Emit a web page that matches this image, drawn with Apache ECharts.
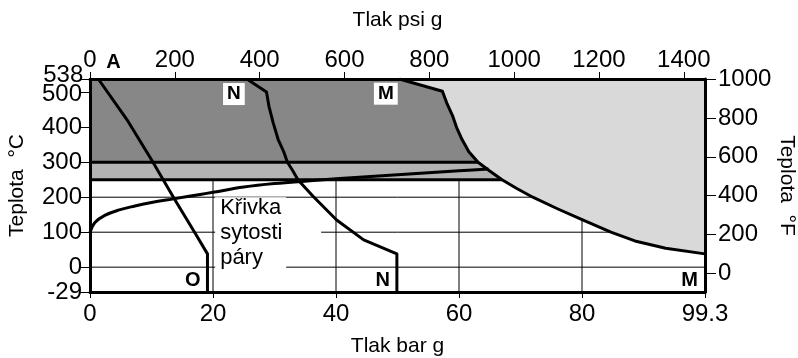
<!DOCTYPE html>
<html>
<head>
<meta charset="utf-8">
<script src="https://cdn.jsdelivr.net/npm/echarts@6/dist/echarts.min.js"></script>
<style>
  html, body { margin: 0; padding: 0; background: #fff; }
  #main { width: 798px; height: 358px; }
</style>
</head>
<body>
<div id="main"></div>
<script>
var FONT = '"Liberation Sans", Arial, sans-serif';

// spodni okraj grafu je zlomeny - popisek -29 lezi na urovni Y_BOTTOM
var Y_BOTTOM = -71;
var Y_TOP = 538;
var X_MAX = 100;          // prava hrana grafu, popsana 99.3
var PSI_PER_BAR = 14.5;

var tempTicksC = [Y_BOTTOM, 0, 100, 200, 300, 400, 500, 538];
var tempTicksF = [0, 200, 400, 600, 800, 1000];
var psiTicks = [0, 200, 400, 600, 800, 1000, 1200, 1400];
var gridBars = [20, 40, 60, 80];
var gridTemps = [0, 100, 200];

// krivky [bar g, °C]
var curveM = [[50.3, 538], [57.3, 503], [58.0, 470], [59.0, 431], [59.6, 400], [60.5, 365], [61.6, 330],
  [63.1, 300], [65.0, 275], [67.0, 250], [69.4, 225], [72.0, 200], [76.0, 167], [80.1, 135],
  [84.7, 100], [88.6, 75], [93.6, 54], [100, 38]];
var curveN = [[25.5, 538], [28.7, 501], [29.1, 460], [29.8, 412], [30.6, 365], [31.5, 330], [32.1, 300],
  [33.0, 275], [33.8, 250], [36.3, 202], [40.1, 135], [44.5, 78], [49.9, 38], [49.9, Y_BOTTOM]];
var curveO = [[1.35, 538], [6.0, 422], [10.0, 307], [13.8, 193], [17.1, 97], [19.1, 38], [19.1, Y_BOTTOM]];
var satCurve = [[0, 100], [0.8, 128], [2.4, 148], [4.6, 163], [7.3, 175], [10, 185], [13.8, 196],
  [17.9, 208], [20, 214], [25, 229], [30, 239], [35.8, 247], [40, 252.6], [50, 264], [60, 275.5], [64.8, 281]];

var boxNotes = ['N', 'M'];
var boxNotesPos = [[23.4, 495], [48.1, 496]];
var plainNotes = ['A', 'O', 'N', 'M'];
var plainNotesPos = [[3.8, 586], [16.7, -39], [47.6, -37], [97.5, -39]];
var satNotePos = [20.35, 97];
// popisky 538 a 500 jsou v predloze od sebe odsunute
var topTickText = ['538', '500'];
var topTickPos = [[-1.1, 548], [-1.3, 493]];

function cToF(c) { return c * 1.8 + 32; }

var mAt300 = curveM.filter(function (p) { return p[1] === 300; })[0];
var mAt250 = curveM.filter(function (p) { return p[1] === 250; })[0];
var darkPoly = [[0, 300], [0, Y_TOP]].concat(curveM.filter(function (p) { return p[1] >= 300; }));
var bandPoly = [[0, 250], [0, 300]].concat(curveM.filter(function (p) { return p[1] <= 300 && p[1] >= 250; }));
var lightPoly = curveM.concat([[X_MAX, Y_TOP]]);

var myChart = echarts.init(document.getElementById('main'), null, { renderer: 'canvas' });

var frame = { show: true, onZero: false, lineStyle: { color: '#000', width: 3 } };
var tickStyle = { color: '#000', width: 1 };
function plain(v) { return String(v); }
function labelC(v) { return v === Y_BOTTOM ? '-29' : String(v); }

function curveSeries(data, smooth) {
  return {
    type: 'line', data: data, showSymbol: false, symbol: 'none', z: 4, silent: true, smooth: smooth || false,
    lineStyle: { color: '#000', width: 3, join: 'round' }
  };
}

myChart.setOption({
  animation: false,
  textStyle: { fontFamily: FONT, color: '#000' },
  grid: { left: 90, right: 93, top: 79, bottom: 66, outerBoundsMode: 'none' },
  xAxis: [{
    type: 'value', position: 'bottom', min: 0, max: X_MAX, interval: 20, z: 10,
    name: 'Tlak bar g', nameLocation: 'middle', nameGap: 44, nameMoveOverlap: false,
    nameTextStyle: { fontSize: 21, color: '#000', fontFamily: FONT },
    axisLine: frame,
    axisTick: { show: true, length: 6, lineStyle: tickStyle },
    axisLabel: {
      fontSize: 24, color: '#000', margin: 10, fontFamily: FONT, showMaxLabel: true, showMinLabel: true,
      formatter: function (v) { return v === X_MAX ? '99.3' : String(v); }
    },
    splitLine: { show: false }
  }, {
    type: 'value', position: 'top', min: 0, max: X_MAX * PSI_PER_BAR, z: 10,
    name: 'Tlak psi g', nameLocation: 'middle', nameGap: 48, nameMoveOverlap: false,
    nameTextStyle: { fontSize: 21, color: '#000', fontFamily: FONT },
    axisLine: frame,
    axisTick: { show: true, length: 7, customValues: psiTicks, lineStyle: tickStyle },
    axisLabel: { fontSize: 24, color: '#000', margin: 7, fontFamily: FONT, customValues: psiTicks, formatter: plain },
    splitLine: { show: false }
  }],
  yAxis: [{
    type: 'value', position: 'left', min: Y_BOTTOM, max: Y_TOP, z: 10,
    name: 'Teplota  °C', nameLocation: 'middle', nameGap: 62, nameMoveOverlap: false,
    nameTextStyle: { fontSize: 21, color: '#000', fontFamily: FONT },
    axisLine: frame,
    axisTick: { show: true, length: 10, customValues: tempTicksC, lineStyle: tickStyle },
    axisLabel: {
      fontSize: 24, color: '#000', margin: 8, fontFamily: FONT,
      customValues: tempTicksC.filter(function (v) { return v < 500; }),
      showMaxLabel: true, showMinLabel: true, hideOverlap: false,
      formatter: labelC
    },
    splitLine: { show: false }
  }, {
    type: 'value', position: 'right', min: cToF(Y_BOTTOM), max: cToF(Y_TOP), z: 10,
    name: 'Teplota  °F', nameLocation: 'middle', nameGap: 71, nameRotate: -90, nameMoveOverlap: false,
    nameTextStyle: { fontSize: 21, color: '#000', fontFamily: FONT },
    axisLine: frame,
    axisTick: { show: true, length: 11, customValues: tempTicksF, lineStyle: tickStyle },
    axisLabel: { fontSize: 24, color: '#000', margin: 13, fontFamily: FONT, customValues: tempTicksF, formatter: plain },
    splitLine: { show: false }
  }],
  series: [
    // tenke mrizky
    {
      type: 'custom', z: 1, silent: true, data: [[0, 0]],
      renderItem: function (params, api) {
        var kids = [];
        gridBars.forEach(function (b) {
          var p1 = api.coord([b, Y_BOTTOM]), p2 = api.coord([b, Y_TOP]);
          kids.push({ type: 'line', shape: { x1: p1[0], y1: p1[1], x2: p2[0], y2: p2[1] }, style: { stroke: '#000', lineWidth: 1 } });
        });
        gridTemps.forEach(function (t) {
          var p1 = api.coord([0, t]), p2 = api.coord([X_MAX, t]);
          kids.push({ type: 'line', shape: { x1: p1[0], y1: p1[1], x2: p2[0], y2: p2[1] }, style: { stroke: '#000', lineWidth: 1 } });
        });
        return { type: 'group', children: kids };
      }
    },
    // sede plochy
    {
      type: 'custom', z: 2, silent: true, data: [[0, 0]],
      renderItem: function (params, api) {
        function poly(pts, color) {
          return { type: 'polygon', shape: { points: pts.map(function (p) { return api.coord(p); }) }, style: { fill: color } };
        }
        return { type: 'group', children: [poly(darkPoly, '#878787'), poly(bandPoly, '#b3b3b3'), poly(lightPoly, '#d9d9d9')] };
      }
    },
    // popisek krivky sytosti
    {
      type: 'scatter', z: 3, silent: true, symbolSize: 0, clip: false,
      itemStyle: { opacity: 1 },
      data: [satNotePos],
      label: {
        show: true, position: 'right', distance: 0, opacity: 1,
        formatter: '{a|Křivka}\n{b|sytosti}\n{a|páry}',
        rich: {
          a: { fontSize: 22, lineHeight: 25, fontFamily: FONT, color: '#000', backgroundColor: '#fff', width: 66, padding: [0, 0, 0, 5] },
          b: { fontSize: 22, lineHeight: 25, fontFamily: FONT, color: '#000', backgroundColor: '#fff', width: 101, padding: [0, 0, 0, 5] }
        }
      }
    },
    curveSeries([[0, 300], mAt300]),
    curveSeries([[0, 250], mAt250]),
    curveSeries(satCurve, 0.4),
    curveSeries(curveO),
    curveSeries(curveN),
    curveSeries(curveM),
    // pismena trid
    {
      type: 'scatter', z: 5, silent: true, symbolSize: 0, clip: false,
      itemStyle: { opacity: 1 },
      data: boxNotesPos.map(function (p, i) { return { value: p, name: boxNotes[i] }; }),
      label: {
        show: true, position: 'inside', formatter: '{b}', opacity: 1,
        fontSize: 19, fontWeight: 'bold', color: '#000', fontFamily: FONT,
        backgroundColor: '#fff', padding: [2, 4, 1, 4]
      }
    },
    {
      type: 'scatter', z: 5, silent: true, symbolSize: 0, clip: false,
      itemStyle: { opacity: 1 },
      data: plainNotesPos.map(function (p, i) { return { value: p, name: plainNotes[i] }; }),
      label: {
        show: true, position: 'inside', formatter: '{b}', opacity: 1,
        fontSize: 20, fontWeight: 'bold', color: '#000', fontFamily: FONT
      }
    },
    // popisky 538 a 500 na leve ose
    {
      type: 'scatter', z: 5, silent: true, symbolSize: 0, clip: false,
      itemStyle: { opacity: 1 },
      data: topTickPos.map(function (p, i) { return { value: p, name: topTickText[i] }; }),
      label: {
        show: true, position: 'left', distance: 0, formatter: '{b}', opacity: 1,
        fontSize: 24, color: '#000', fontFamily: FONT
      }
    }
  ]
});
</script>
</body>
</html>
